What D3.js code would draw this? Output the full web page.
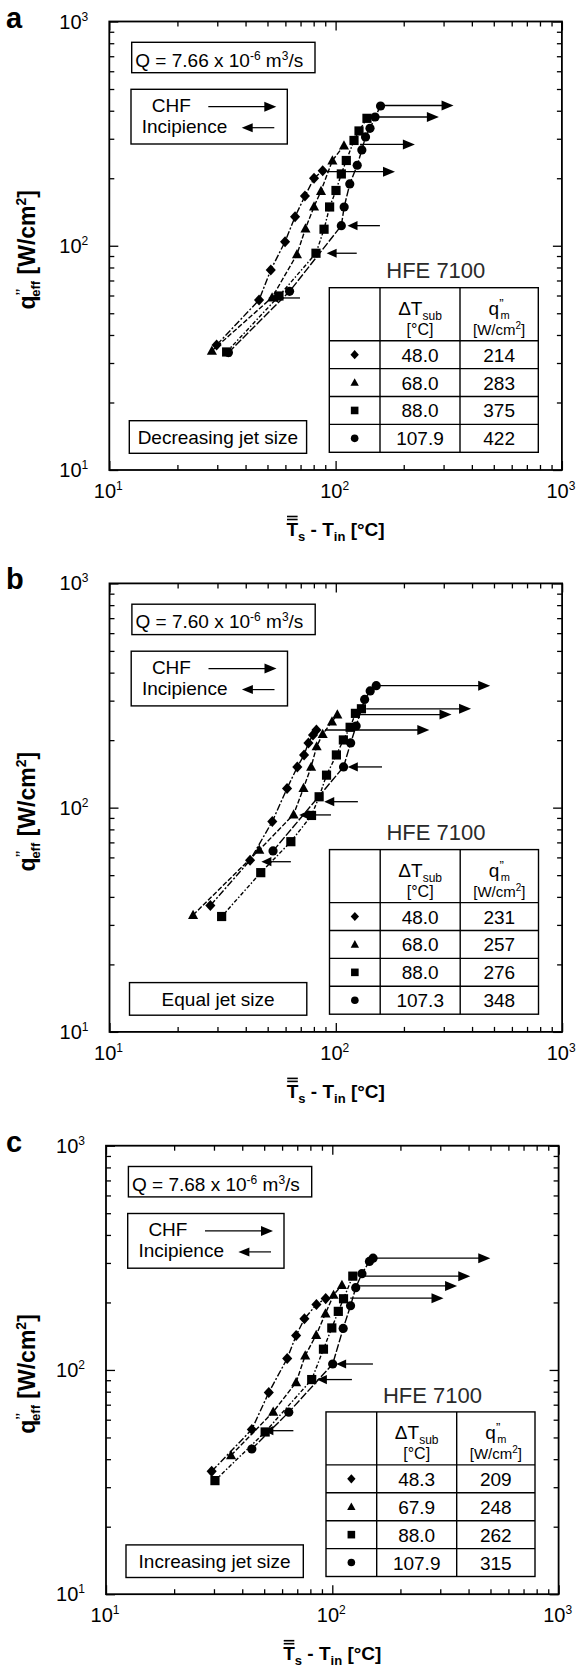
<!DOCTYPE html>
<html>
<head>
<meta charset="utf-8">
<script src="https://cdn.jsdelivr.net/npm/d3@7"></script>
<style>
  body { margin: 0; background: #fff; }
  svg { display: block; font-family: "Liberation Sans", Arial, Helvetica, sans-serif; }
</style>
</head>
<body>
<div id="chart"></div>
<script>
// ---- data (x = Ts - Tin [°C], y = q"eff [W/cm2]) ----
const panelLetters = ["a", "b", "c"];
const flowRates = ["7.66", "7.60", "7.68"];
const jetSizes = ["Decreasing jet size", "Equal jet size", "Increasing jet size"];
const seriesKinds = ["diamond", "triangle", "square", "circle"];
const subcoolValues = [["48.0", "68.0", "88.0", "107.9"], ["48.0", "68.0", "88.0", "107.3"], ["48.3", "67.9", "88.0", "107.9"]];
const chfValues = [["214", "283", "375", "422"], ["231", "257", "276", "348"], ["209", "248", "262", "315"]];
const axisDecades = [10, 100, 1000];

// panel a
const aDiamond = [[29.8, 36.1], [45.9, 57.3], [51.7, 78.0], [59.8, 104.3], [66.2, 134.8], [73.2, 166.7], [80.3, 200], [87.7, 216]];
const aTriangle = [[28.4, 34.0], [52.4, 58.8], [67.5, 91.5], [73.6, 119.4], [80.3, 149.4], [86.2, 175.5], [96.8, 240], [108.9, 280]];
const aSquare = [[33.0, 33.6], [56.2, 59.7], [81.9, 92.6], [88.9, 118.5], [94.1, 148.9], [100.4, 176.4], [106, 209], [111.5, 240], [120.6, 294.8], [126.9, 325], [137.6, 370]];
const aCircle = [[33.6, 33.4], [62.6, 62.6], [106, 122.9], [109.1, 148.9], [115.5, 188.6], [124.6, 228.5], [130.6, 267.4], [135.6, 305.6], [141.9, 334], [149.4, 375], [158, 420]];
// CHF arrows: [start, tip, q]; incipience arrows: [tip, tail, q]
const aChf = [[91.6, 183, 214], [128.2, 224, 283], [143.3, 286, 375], [160.3, 332, 422]];
const aInc = [[50.4, 69.6, 58.5], [91.3, 124, 92.6], [112.9, 157, 122.9]];

// panel b
const bDiamond = [[27.9, 36.6], [41.8, 58.3], [52.4, 86.8], [60.9, 121.8], [67.6, 151.9], [72.4, 171.8], [75.7, 194.3], [79.3, 211], [82.1, 222]];
const bTriangle = [[23.4, 33.2], [45.9, 64.8], [65.1, 93.2], [72, 122.2], [77.8, 151.9], [82.3, 187.5], [87.5, 212.7], [96.2, 242.2], [101.6, 260]];
const bSquare = [[31.3, 32.7], [46.6, 51.3], [63.3, 70.5], [78.1, 92.3], [84.4, 111.8], [91, 139.6], [100.6, 171.8], [108, 200.4], [115.7, 228.2], [122.1, 263.3], [129.8, 276]];
const bCircle = [[52.8, 64.1], [108.2, 151.9], [116.3, 194.3], [123, 231.3], [134.1, 303.7], [141.9, 331.4], [150.9, 350]];
const bChf = [[89.6, 259, 222], [123, 324.5, 260], [136.2, 396, 276], [152.4, 481, 350]];
const bInc = [[46.9, 63.3, 57.4], [68.9, 95.2, 92.8], [88.9, 125.2, 106.3], [113, 160, 151.9]];

// panel c
const cDiamond = [[29.3, 35.3], [44.1, 54.3], [52.4, 79.3], [63.2, 112.5], [69.2, 142.5], [75.3, 169.1], [85.1, 195.9], [93.5, 208]];
const cTriangle = [[35.7, 41.6], [54.8, 65], [69.2, 88], [75.9, 116], [84.9, 143.2], [93.3, 178.6], [101.3, 216], [110.3, 239]];
const cSquare = [[30.3, 32.1], [50.5, 52.9], [81.1, 90.6], [91.4, 123.8], [99.5, 153.9], [106.3, 182.5], [112.1, 207.7], [123.2, 262]];
const cCircle = [[44.1, 44.4], [64.2, 64.8], [100.4, 106.3], [111.7, 153.1], [120.4, 193.3], [126.9, 232.8], [135.2, 268.8], [145.9, 304.6], [151.4, 315]];
const cChf = [[120, 310, 209], [124.1, 356, 237], [137.4, 407, 262], [157.5, 499, 315]];
const cInc = [[49.6, 67.3, 53.6], [85.5, 122.1, 90.6], [104, 151.2, 106.3]];

const panelSeries = [[aDiamond, aTriangle, aSquare, aCircle], [bDiamond, bTriangle, bSquare, bCircle], [cDiamond, cTriangle, cSquare, cCircle]];
const panelChf = [aChf, bChf, cChf];
const panelInc = [aInc, bInc, cInc];

// ---- layout ----
const frames = [{ x: 109.3, y: 21.5 }, { x: 109.5, y: 583.4 }, { x: 106, y: 1145.7 }];
const FW = 452.6, FH = 448.5;
const dashes = ["7,2,2,2", "5,2", "4,2,1.5,2", "8,2"];

const svg = d3.select("#chart").append("svg")
    .attr("width", 576)
    .attr("height", 1669);

function markerPath(kind, s) {
    const p = d3.path();
    if (kind === "diamond") {
        p.moveTo(0, -s * 1.2); p.lineTo(s * 1.1, 0); p.lineTo(0, s * 1.2); p.lineTo(-s * 1.1, 0); p.closePath();
    } else if (kind === "triangle") {
        p.moveTo(0, -s * 1.15); p.lineTo(s * 1.1, s * 0.85); p.lineTo(-s * 1.1, s * 0.85); p.closePath();
    } else if (kind === "square") {
        p.rect(-s, -s, 2 * s, 2 * s);
    } else {
        p.moveTo(s, 0); p.arc(0, 0, s, 0, 2 * Math.PI);
    }
    return p.toString();
}

// text with raised / lowered pieces
function rich(sel, parts) {
    let cur = 0;
    parts.forEach(p => {
        const off = p.off || 0;
        const ts = sel.append("tspan").text(p.t).attr("dy", off - cur);
        if (p.size) ts.attr("font-size", p.size);
        if (p.dx) ts.attr("dx", p.dx);
        cur = off;
    });
    return sel;
}

function arrow(g, x1, x2, yy, head, half, lw) {
    const dir = Math.sign(x2 - x1);
    g.append("line")
        .attr("x1", x1).attr("y1", yy)
        .attr("x2", x2 - dir * head * 0.7).attr("y2", yy)
        .attr("stroke", "#000").attr("stroke-width", lw);
    g.append("path")
        .attr("d", `M${x2},${yy}L${x2 - dir * head},${yy - half}L${x2 - dir * head},${yy + half}Z`)
        .attr("fill", "#000");
}

function drawPanel(i) {
    const f = frames[i];
    const x = d3.scaleLog().domain([10, 1000]).range([f.x, f.x + FW]);
    const y = d3.scaleLog().domain([10, 1000]).range([f.y + FH, f.y]);
    const g = svg.append("g");

    // ticks (inward, on all sides)
    const minor = x.ticks().filter(t => !axisDecades.includes(t));
    const axes = [
        [d3.axisBottom(x), `translate(0,${f.y + FH})`],
        [d3.axisTop(x), `translate(0,${f.y})`],
        [d3.axisLeft(y), `translate(${f.x},0)`],
        [d3.axisRight(y), `translate(${f.x + FW},0)`]
    ];
    axes.forEach(([ax, tr]) => {
        [[axisDecades, 9], [minor, 5]].forEach(([vals, len]) => {
            const a = g.append("g").attr("transform", tr)
                .call(ax.tickValues(vals).tickSize(-len).tickFormat(""));
            a.select(".domain").remove();
            a.selectAll("line").attr("stroke", "#000").attr("stroke-width", 1.3);
        });
    });

    g.append("rect")
        .attr("x", f.x).attr("y", f.y)
        .attr("width", FW).attr("height", FH)
        .attr("fill", "none").attr("stroke", "#000").attr("stroke-width", 1.8);

    // tick labels
    axisDecades.forEach(v => {
        const e = Math.round(Math.log10(v));
        rich(g.append("text").attr("x", f.x - 21).attr("y", y(v) + 7)
            .attr("text-anchor", "end").attr("font-size", 20),
            [{ t: "10" }, { t: String(e), size: 12, off: -8 }]);
        rich(g.append("text").attr("x", x(v) - 1).attr("y", f.y + FH + 28)
            .attr("text-anchor", "middle").attr("font-size", 20),
            [{ t: "10" }, { t: String(e), size: 12, off: -8 }]);
    });

    // panel letter
    g.append("text").attr("x", 6).attr("y", f.y + 6)
        .attr("font-size", 29).attr("font-weight", "bold").text(panelLetters[i]);

    // axis titles
    const xt = rich(g.append("text").attr("x", f.x + FW / 2).attr("y", f.y + FH + 66)
        .attr("text-anchor", "middle").attr("font-size", 19).attr("font-weight", "bold"),
        [{ t: "T" }, { t: "s", size: 13, off: 5 }, { t: " - T" }, { t: "in", size: 13, off: 5 }, { t: " [°C]" }]);
    const ext = xt.node().getExtentOfChar(0);
    [16.5, 19.5].forEach(dy => {
        g.append("line")
            .attr("x1", ext.x + 0.5).attr("x2", ext.x + ext.width - 0.5)
            .attr("y1", f.y + FH + 66 - dy).attr("y2", f.y + FH + 66 - dy)
            .attr("stroke", "#000").attr("stroke-width", 1.6);
    });

    rich(g.append("text")
        .attr("transform", `translate(35,${f.y + FH / 2 + 4}) rotate(-90)`)
        .attr("text-anchor", "middle").attr("font-size", 23).attr("font-weight", "bold"),
        [{ t: "q" }, { t: "’’", size: 13, off: -10 }, { t: "eff", size: 13, off: 5, dx: -8 }, { t: " [W/cm" }, { t: "2", size: 14, off: -9 }, { t: "]" }]);

    // series lines
    const line = d3.line().x(d => x(d[0])).y(d => y(d[1]));
    panelSeries[i].forEach((pts, k) => {
        g.append("path").attr("d", line(pts))
            .attr("fill", "none").attr("stroke", "#000")
            .attr("stroke-width", 1.4).attr("stroke-dasharray", dashes[k]);
    });

    // CHF and incipience arrows
    panelChf[i].forEach(c => arrow(g, x(c[0]), x(c[1]), y(c[2]), 12, 5, 1.3));
    panelInc[i].forEach(c => arrow(g, x(c[1]), x(c[0]), y(c[2]), 10, 4.6, 1.3));

    // markers
    panelSeries[i].forEach((pts, k) => {
        g.selectAll(null).data(pts).enter().append("path")
            .attr("transform", d => `translate(${x(d[0])},${y(d[1])})`)
            .attr("d", markerPath(seriesKinds[k], 4.6))
            .attr("fill", "#000");
    });

    // Q box
    g.append("rect").attr("x", f.x + 22.4).attr("y", f.y + 20.8)
        .attr("width", 183.3).attr("height", 30.4)
        .attr("fill", "#fff").attr("stroke", "#000").attr("stroke-width", 1.4);
    rich(g.append("text").attr("x", f.x + 26).attr("y", f.y + 45).attr("font-size", 19),
        [{ t: "Q = " + flowRates[i] + " x 10" }, { t: "-6", size: 12, off: -7 }, { t: " m" }, { t: "3", size: 12, off: -7 }, { t: "/s" }]);

    // CHF / incipience legend box
    g.append("rect").attr("x", f.x + 21.7).attr("y", f.y + 67.8)
        .attr("width", 156.3).attr("height", 54.7)
        .attr("fill", "#fff").attr("stroke", "#000").attr("stroke-width", 1.4);
    g.append("text").attr("x", f.x + 42.4).attr("y", f.y + 90.5).attr("font-size", 19).text("CHF");
    g.append("text").attr("x", f.x + 32.4).attr("y", f.y + 111.5).attr("font-size", 19).text("Incipience");
    arrow(g, f.x + 99, f.x + 167, f.y + 85.2, 12, 5, 1.2);
    arrow(g, f.x + 165, f.x + 132.4, f.y + 106.2, 11, 4.5, 1.2);

    // jet size box
    g.append("rect").attr("x", f.x + 20).attr("y", f.y + 399.2)
        .attr("width", 177.3).attr("height", 32.6)
        .attr("fill", "#fff").attr("stroke", "#000").attr("stroke-width", 1.4);
    g.append("text").attr("x", f.x + 108.6).attr("y", f.y + 422.5)
        .attr("text-anchor", "middle").attr("font-size", 19).text(jetSizes[i]);

    // table
    const T = { l: f.x + 220, c1: f.x + 270.7, c2: f.x + 350.7, r: f.x + 429, top: f.y + 266.2, hb: f.y + 319.2, rh: 27.9 };
    g.append("text").attr("x", (T.l + T.r) / 2 + 2).attr("y", f.y + 256.8)
        .attr("text-anchor", "middle").attr("font-size", 22).attr("fill", "#2a2a2a").text("HFE 7100");
    g.append("rect").attr("x", T.l).attr("y", T.top)
        .attr("width", T.r - T.l).attr("height", T.hb + 4 * T.rh - T.top)
        .attr("fill", "#fff").attr("stroke", "#000").attr("stroke-width", 1.4);
    [T.c1, T.c2].forEach(cx => g.append("line").attr("x1", cx).attr("x2", cx)
        .attr("y1", T.top).attr("y2", T.hb + 4 * T.rh).attr("stroke", "#000").attr("stroke-width", 1.4));
    d3.range(4).forEach(k => g.append("line").attr("x1", T.l).attr("x2", T.r)
        .attr("y1", T.hb + k * T.rh).attr("y2", T.hb + k * T.rh).attr("stroke", "#000").attr("stroke-width", 1.4));

    const m1 = (T.c1 + T.c2) / 2, m2 = (T.c2 + T.r) / 2;
    rich(g.append("text").attr("x", m1).attr("y", f.y + 293.5).attr("text-anchor", "middle").attr("font-size", 19),
        [{ t: "ΔT" }, { t: "sub", size: 12, off: 5 }]);
    g.append("text").attr("x", m1).attr("y", f.y + 313.5).attr("text-anchor", "middle").attr("font-size", 16).text("[°C]");
    rich(g.append("text").attr("x", m2).attr("y", f.y + 293.5).attr("text-anchor", "middle").attr("font-size", 19),
        [{ t: "q" }, { t: "”", size: 13, off: -7 }, { t: "m", size: 11, off: 4, dx: -3 }]);
    rich(g.append("text").attr("x", m2).attr("y", f.y + 313.5).attr("text-anchor", "middle").attr("font-size", 15),
        [{ t: "[W/cm" }, { t: "2", size: 10, off: -6 }, { t: "]" }]);

    seriesKinds.forEach((kind, k) => {
        const cy = T.hb + (k + 0.5) * T.rh;
        g.append("path").attr("transform", `translate(${(T.l + T.c1) / 2},${cy})`)
            .attr("d", markerPath(kind, 3.8)).attr("fill", "#000");
        g.append("text").attr("x", m1).attr("y", cy + 7).attr("text-anchor", "middle")
            .attr("font-size", 19).text(subcoolValues[i][k]);
        g.append("text").attr("x", m2).attr("y", cy + 7).attr("text-anchor", "middle")
            .attr("font-size", 19).text(chfValues[i][k]);
    });
}

d3.range(3).forEach(drawPanel);
</script>
</body>
</html>
